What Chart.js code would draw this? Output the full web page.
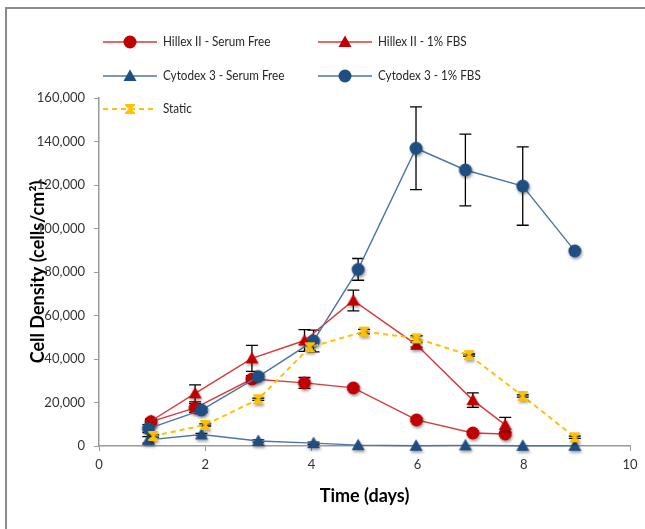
<!DOCTYPE html>
<html><head><meta charset="utf-8">
<script src="https://cdn.jsdelivr.net/npm/chart.js@4.4.0/dist/chart.umd.min.js"></script>
<style>html,body{margin:0;padding:0;background:#fff;}#wrap{width:645px;height:529px;position:relative;}</style>
</head><body><div id="wrap"><canvas id="c" width="645" height="529"></canvas></div>
<script>
// ---- data ----
const hillexDays = [0.98, 1.81, 2.88, 3.87, 4.79, 5.98, 7.04, 7.65];
const hillexSerumFree = [11200, 17500, 30800, 29000, 26700, 12000, 6000, 5500];
const hillexSerumFreeErr = [1000, 2000, 1500, 2500, 800, 800, 800, 800];
const hillexFBS = [11500, 24200, 40300, 48500, 66900, 46500, 21100, 9700];
const hillexFBSErr = [1000, 3900, 6000, 5000, 4800, 1000, 3300, 3500];

const cytodexDays = [0.93, 1.93, 3.0, 4.04, 4.88, 5.97, 6.9, 7.98, 8.96];
const cytodexSerumFree = [2800, 5300, 2300, 1300, 400, 100, 300, 100, 100];
const cytodexSerumFreeErr = [1500, 500, 500, 500, 0, 0, 0, 0, 0];
const cytodexFBS = [8000, 16500, 31900, 48300, 81200, 136900, 126900, 119500, 89700];
const cytodexFBSErr = [1800, 1000, 1000, 5000, 5000, 19000, 16500, 18000, 0];

const staticDays = [1.02, 2.0, 3.0, 3.97, 4.99, 5.98, 6.97, 7.98, 8.96];
const staticValues = [4600, 9700, 21500, 45400, 52600, 49500, 41800, 23000, 4000];
const staticErr = [500, 500, 500, 1500, 1000, 1200, 500, 500, 500];

const seriesLabels = ['Hillex II - Serum Free', 'Hillex II - 1% FBS', 'Cytodex 3 - Serum Free', 'Cytodex 3 - 1% FBS', 'Static'];
const xTickMax = 10, xStep = 2, yTickMax = 160000, yStep = 20000;

// ---- styling ----
const FONT = 'Lato, "Open Sans", sans-serif';
const RED = '#c00000', RED_LINE = '#d63a3a';
const BLUE = '#1f4e82', BLUE_LINE = '#4d74a6';
const YEL = '#ffc000';

function makeMarker(type, color, shadow) {
  const c = document.createElement('canvas');
  c.width = 26; c.height = 26;
  const g = c.getContext('2d');
  g.translate(13, 13);
  if (shadow) { g.shadowColor = 'rgba(0,0,0,0.38)'; g.shadowBlur = 3; g.shadowOffsetX = 1; g.shadowOffsetY = 2; }
  g.fillStyle = color;
  g.beginPath();
  if (type === 'circle') {
    g.arc(0, 0, 6.5, 0, Math.PI * 2);
  } else if (type === 'triangle') {
    g.moveTo(0, -6.5); g.lineTo(6.5, 5); g.lineTo(-6.5, 5); g.closePath();
  } else if (type === 'hourglass') {
    g.moveTo(-5, -5); g.lineTo(5, -5); g.lineTo(5, -3.5); g.lineTo(1.2, 0); g.lineTo(5, 3.5); g.lineTo(5, 5);
    g.lineTo(-5, 5); g.lineTo(-5, 3.5); g.lineTo(-1.2, 0); g.lineTo(-5, -3.5); g.closePath();
  }
  g.fill();
  return c;
}

const mk = {
  redCircle: makeMarker('circle', RED, true),
  redTri: makeMarker('triangle', RED, true),
  blueTri: makeMarker('triangle', BLUE, true),
  blueCircle: makeMarker('circle', BLUE, true),
  hour: makeMarker('hourglass', YEL, true)
};
const mkL = {
  redCircle: makeMarker('circle', RED, false),
  redTri: makeMarker('triangle', RED, false),
  blueTri: makeMarker('triangle', BLUE, false),
  blueCircle: makeMarker('circle', BLUE, false),
  hour: makeMarker('hourglass', YEL, false)
};

function pts(xs, ys) { return xs.map((x, i) => ({x: x, y: ys[i]})); }

const datasets = [
  {label: seriesLabels[0], data: pts(hillexDays, hillexSerumFree), errors: hillexSerumFreeErr, borderColor: RED_LINE, pointStyle: mk.redCircle, order: 4},
  {label: seriesLabels[1], data: pts(hillexDays, hillexFBS), errors: hillexFBSErr, borderColor: RED_LINE, pointStyle: mk.redTri, order: 3},
  {label: seriesLabels[2], data: pts(cytodexDays, cytodexSerumFree), errors: cytodexSerumFreeErr, borderColor: BLUE_LINE, pointStyle: mk.blueTri, order: 2},
  {label: seriesLabels[3], data: pts(cytodexDays, cytodexFBS), errors: cytodexFBSErr, borderColor: BLUE_LINE, pointStyle: mk.blueCircle, order: 1},
  {label: seriesLabels[4], data: pts(staticDays, staticValues), errors: staticErr, borderColor: YEL, borderDash: [5, 4], borderWidth: 2, pointStyle: mk.hour, order: 0}
].map(d => Object.assign({showLine: true, borderWidth: 1.4, pointRadius: 7, clip: false, tension: 0, backgroundColor: d.borderColor}, d));

const errorBarPlugin = {
  id: 'errorBars',
  beforeDatasetsDraw(chart) {
    const ctx = chart.ctx, xs = chart.scales.x, ys = chart.scales.y;
    ctx.save();
    ctx.strokeStyle = '#000'; ctx.lineWidth = 1.3;
    chart.data.datasets.forEach(ds => {
      ds.data.forEach((p, j) => {
        const e = ds.errors[j];
        if (!e) return;
        const x = xs.getPixelForValue(p.x);
        const y1 = ys.getPixelForValue(p.y + e), y2 = ys.getPixelForValue(p.y - e);
        ctx.beginPath();
        ctx.moveTo(x, y1); ctx.lineTo(x, y2);
        ctx.moveTo(x - 6, y1); ctx.lineTo(x + 6, y1);
        ctx.moveTo(x - 6, y2); ctx.lineTo(x + 6, y2);
        ctx.stroke();
      });
    });
    ctx.restore();
  }
};

const framePlugin = {
  id: 'frame',
  beforeDraw(chart) {
    const ctx = chart.ctx;
    ctx.save();
    ctx.strokeStyle = '#8c8c8c'; ctx.lineWidth = 2;
    ctx.beginPath(); ctx.moveTo(6, 529); ctx.lineTo(6, 8); ctx.lineTo(645, 8); ctx.stroke();
    ctx.restore();
  }
};

const legendPlugin = {
  id: 'customLegend',
  afterDraw(chart) {
    const ctx = chart.ctx;
    const items = [
      {i: 0, col: 0, row: 0, m: mkL.redCircle},
      {i: 1, col: 1, row: 0, m: mkL.redTri},
      {i: 2, col: 0, row: 1, m: mkL.blueTri},
      {i: 3, col: 1, row: 1, m: mkL.blueCircle},
      {i: 4, col: 0, row: 2, m: mkL.hour}
    ];
    const colX = [103, 318], rowY = [42, 76, 109];
    ctx.save();
    items.forEach(it => {
      const ds = chart.data.datasets[it.i];
      const x0 = colX[it.col], y = rowY[it.row];
      ctx.strokeStyle = ds.borderColor;
      ctx.lineWidth = it.i === 4 ? 2 : 1.6;
      ctx.setLineDash(ds.borderDash || []);
      ctx.beginPath(); ctx.moveTo(x0, y); ctx.lineTo(x0 + 54, y); ctx.stroke();
      ctx.setLineDash([]);
      ctx.drawImage(it.m, x0 + 27 - 13, y - 13);
      ctx.save();
      ctx.translate(x0 + 60, y);
      ctx.scale(0.9, 1);
      ctx.fillStyle = '#262626';
      ctx.font = '13px ' + FONT;
      ctx.textBaseline = 'middle';
      ctx.fillText(ds.label, 0, 0);
      ctx.restore();
    });
    ctx.restore();
  }
};

new Chart(document.getElementById('c'), {
  type: 'scatter',
  data: {datasets: datasets},
  plugins: [framePlugin, errorBarPlugin, legendPlugin],
  options: {
    responsive: false,
    animation: false,
    events: [],
    layout: {padding: {left: 8, right: 15, top: 98, bottom: 0}},
    plugins: {legend: {display: false}, tooltip: {enabled: false}},
    scales: {
      x: {
        type: 'linear', min: 0, max: xTickMax,
        afterFit: s => { s.height = 83; },
        ticks: {stepSize: xStep, color: '#333', font: {family: FONT, size: 13}, padding: 6},
        grid: {drawOnChartArea: false, drawTicks: true, tickLength: 5, color: '#9a9a9a'},
        border: {color: '#9a9a9a', width: 1.5},
        title: {display: true, text: 'Time (days)', color: '#000', font: {family: FONT, size: 18, weight: 'bold'}, padding: {top: 0, bottom: 22}}
      },
      y: {
        type: 'linear', min: 0, max: yTickMax,
        afterFit: s => { s.width = 91; },
        ticks: {stepSize: yStep, color: '#333', font: {family: FONT, size: 13}, padding: 9,
          callback: v => v.toLocaleString('en-US')},
        grid: {drawOnChartArea: false, drawTicks: true, tickLength: 5, color: '#9a9a9a'},
        border: {color: '#9a9a9a', width: 1.5},
        title: {display: true, text: 'Cell Density (cells/cm²)', color: '#000', font: {family: FONT, size: 18, weight: 'bold'}, padding: {top: 19, bottom: 0}}
      }
    }
  }
});
</script></body></html>
